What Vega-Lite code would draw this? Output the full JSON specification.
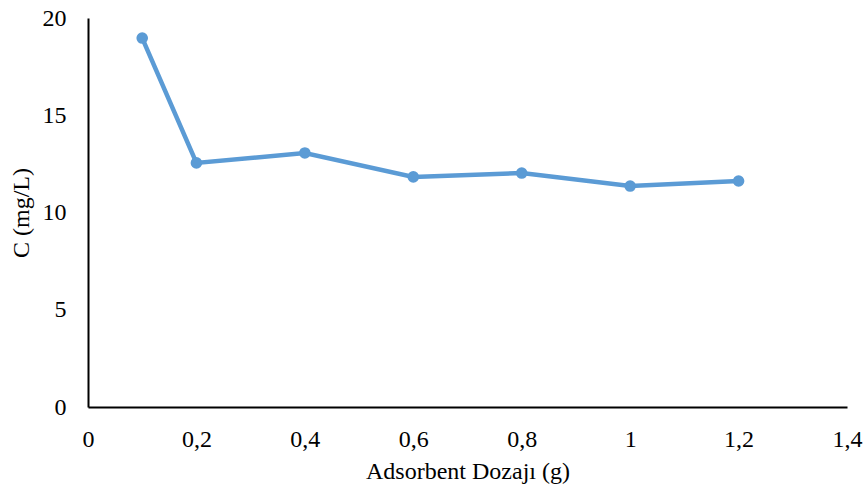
{
  "$schema": "https://vega.github.io/schema/vega-lite/v6.json",
  "width": 759,
  "height": 389,
  "autosize": {"type": "none"},
  "padding": {"left": 88, "top": 18, "right": 21, "bottom": 86},
  "background": "white",
  "config": {
    "view": {"stroke": null},
    "font": "Liberation Serif",
    "axis": {
      "labelFont": "Liberation Serif",
      "titleFont": "Liberation Serif",
      "labelFontSize": 24,
      "titleFontSize": 24,
      "labelColor": "#000",
      "titleColor": "#000",
      "titleFontWeight": "normal",
      "domainColor": "#000",
      "domainWidth": 2,
      "ticks": false,
      "grid": false
    }
  },
  "data": {
    "values": [
      {"dose": 0.1, "c": 18.97},
      {"dose": 0.2, "c": 12.55},
      {"dose": 0.4, "c": 13.06},
      {"dose": 0.6, "c": 11.83},
      {"dose": 0.8, "c": 12.03},
      {"dose": 1.0, "c": 11.36},
      {"dose": 1.2, "c": 11.62}
    ]
  },
  "mark": {"type": "line", "color": "#5B9BD5", "strokeWidth": 4.5, "point": {"filled": true, "size": 135, "color": "#5B9BD5", "opacity": 1}},
  "encoding": {
    "x": {
      "field": "dose", "type": "quantitative",
      "scale": {"domain": [0, 1.4], "nice": false},
      "axis": {"values": [0, 0.2, 0.4, 0.6, 0.8, 1.0, 1.2, 1.4], "labelExpr": "replace(format(datum.value,'~g'),'.',',')", "labelPadding": 20, "title": "Adsorbent Dozajı (g)", "titlePadding": 8, "labelFlush": false}
    },
    "y": {
      "field": "c", "type": "quantitative",
      "scale": {"domain": [0, 20], "nice": false},
      "axis": {"values": [0, 5, 10, 15, 20], "labelPadding": 22, "title": "C (mg/L)", "titlePadding": 9}
    }
  }
}
